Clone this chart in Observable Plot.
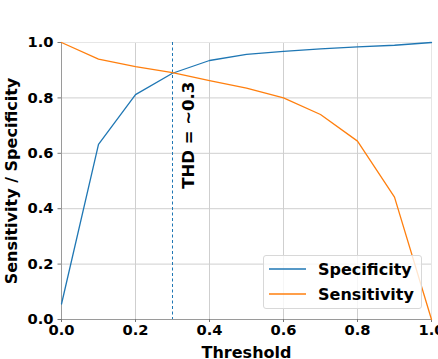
<!DOCTYPE html>
<html><head><meta charset="utf-8">
<script src="https://cdn.jsdelivr.net/npm/d3@7"></script>
<script src="https://cdn.jsdelivr.net/npm/@observablehq/plot@0.6"></script>
<style>
body{margin:0;background:#fff;font-family:"DejaVu Sans",sans-serif;}
#wrap{position:relative;width:438px;height:359px;overflow:hidden;}
#legend{position:absolute;left:263px;top:255px;width:159px;height:54px;border:1px solid #d8d8d8;border-radius:3px;background:rgba(255,255,255,0.8);font-weight:bold;font-size:16px;color:#000;box-sizing:border-box;}
#legend .row{position:absolute;left:5px;height:20px;display:flex;align-items:center;}
#legend svg{margin-right:12px;}
</style></head><body><div id="wrap"></div>
<script>
const thresholds = [0, 0.1, 0.2, 0.3, 0.4, 0.5, 0.6, 0.7, 0.8, 0.9, 1.0];
const specificity = [0.056, 0.632, 0.812, 0.889, 0.935, 0.957, 0.968, 0.977, 0.984, 0.99, 1.0];
const sensitivity = [1.0, 0.94, 0.913, 0.891, 0.862, 0.835, 0.80, 0.74, 0.644, 0.442, 0.0];
const seriesNames = ["Specificity", "Sensitivity"];
const seriesColors = ["#1f77b4", "#ff7f0e"];
const thd = 0.3;
const thdLabel = "THD = ~0.3";
const thdLabelY = 0.665;
const xTicks = [0, 0.2, 0.4, 0.6, 0.8, 1.0];
const yTicks = [0, 0.2, 0.4, 0.6, 0.8, 1.0];

const rows = [];
thresholds.forEach((t, i) => {
  rows.push({t, v: specificity[i], s: seriesNames[0]});
  rows.push({t, v: sensitivity[i], s: seriesNames[1]});
});

const fmt = d3.format(".1f");
const chart = Plot.plot({
  width: 438, height: 359,
  marginLeft: 61, marginRight: 7, marginTop: 42, marginBottom: 40,
  style: {fontFamily: "DejaVu Sans", fontSize: "14.7px", fontWeight: "bold", color: "#000", background: "#fff", overflow: "visible"},
  x: {domain: [0, 1]},
  y: {domain: [0, 1]},
  color: {domain: seriesNames, range: seriesColors},
  marks: [
    Plot.gridX(xTicks, {stroke: "#cfcfcf", strokeOpacity: 1, strokeWidth: 1}),
    Plot.gridY(yTicks, {stroke: "#cfcfcf", strokeOpacity: 1, strokeWidth: 1}),
    Plot.frame({stroke: "#e6e6e6"}),
    Plot.ruleX([0], {stroke: "#9a9a9a"}),
    Plot.ruleY([0], {stroke: "#9a9a9a"}),
    Plot.axisX(xTicks, {tickFormat: fmt, tickSize: 3, tickPadding: 2, stroke: "#777", label: null}),
    Plot.axisX({label: "Threshold", labelAnchor: "center", labelArrow: "none", labelOffset: 38, ticks: [], fontSize: 16}),
    Plot.axisY(yTicks, {tickFormat: fmt, tickSize: 3.5, tickPadding: 4.5, stroke: "#777", label: null}),
    Plot.axisY({label: "Sensitivity / Specificity", labelAnchor: "center", labelArrow: "none", labelOffset: 56, ticks: [], fontSize: 16}),
    Plot.ruleX([thd], {stroke: "#1f77b4", strokeDasharray: "3,2.5", strokeWidth: 1}),
    Plot.line(rows, {x: "t", y: "v", stroke: "s", z: "s", strokeWidth: 1.3}),
    Plot.text([thdLabel], {x: thd, y: thdLabelY, text: d => d, rotate: -90, dx: 16, textAnchor: "middle", fontSize: 16.5, fontWeight: "bold", fill: "#000"})
  ]
});
const wrap = document.getElementById("wrap");
wrap.appendChild(chart);

const legend = document.createElement("div");
legend.id = "legend";
seriesNames.forEach((name, i) => {
  const row = document.createElement("div");
  row.className = "row";
  row.style.top = (3 + i * 25) + "px";
  row.innerHTML = `<svg width="37" height="4"><line x1="0" x2="37" y1="2" y2="2" stroke="${seriesColors[i]}" stroke-width="1.3"/></svg><span>${name}</span>`;
  legend.appendChild(row);
});
wrap.appendChild(legend);
</script></body></html>
